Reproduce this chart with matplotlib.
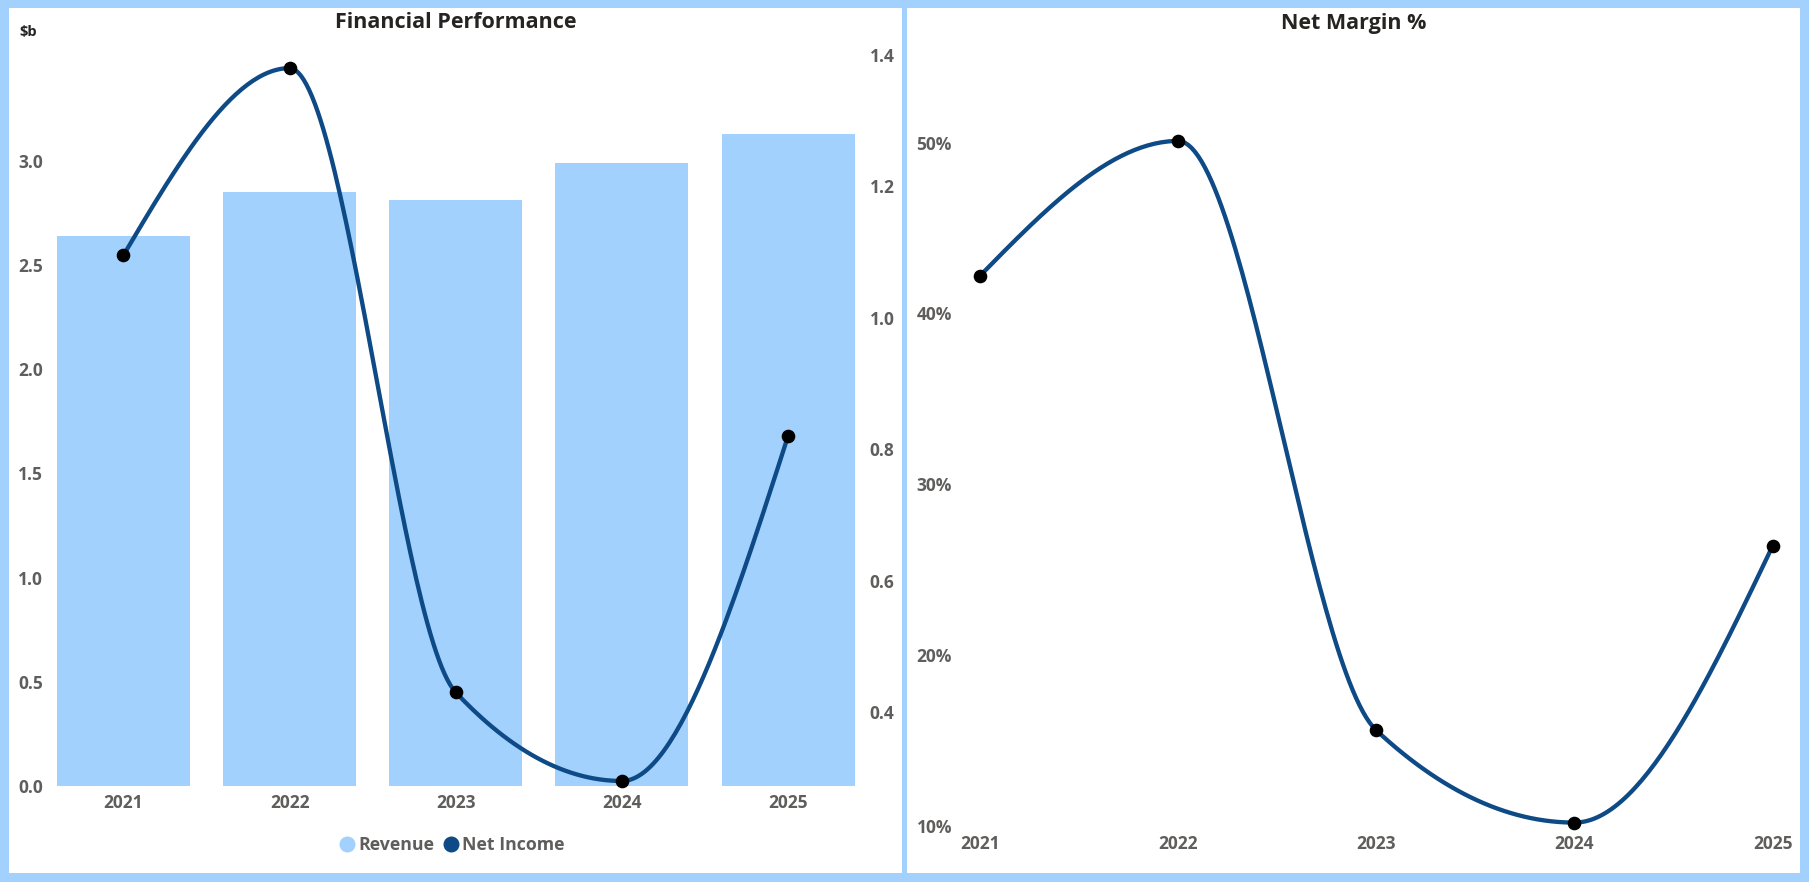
import numpy as np
import matplotlib
matplotlib.use('Agg')
import matplotlib.pyplot as plt
from matplotlib.patches import Rectangle
from matplotlib.lines import Line2D
from matplotlib.ticker import FixedLocator, FuncFormatter

# ---- data ----
years = ['2021', '2022', '2023', '2024', '2025']
revenue = [2.64, 2.85, 2.81, 2.99, 3.13]          # $b
net_income = [1.095, 1.38, 0.43, 0.295, 0.82]     # $b
net_margin = [42.2, 50.1, 15.6, 10.2, 26.4]       # %
rev_ticks = [0.0, 0.5, 1.0, 1.5, 2.0, 2.5, 3.0]
ni_ticks = [0.4, 0.6, 0.8, 1.0, 1.2, 1.4]
margin_ticks = [10, 20, 30, 40, 50]

# ---- style ----
W, H, DPI = 1809, 882, 100
LB = '#A2D1FE'
DB = '#0D4A86'
TICK = '#605E5C'
TITLE = '#252423'
FONT = 'Open Sans'
plt.rcParams['font.family'] = [FONT, 'DejaVu Sans']


def monotone_curve(xs, ys, n=60):
    xs = np.asarray(xs, float)
    ys = np.asarray(ys, float)
    h = np.diff(xs)
    s = np.diff(ys) / h
    m = np.zeros_like(ys)
    for i in range(1, len(ys) - 1):
        p = (s[i - 1] * h[i] + s[i] * h[i - 1]) / (h[i - 1] + h[i])
        m[i] = (np.sign(s[i - 1]) + np.sign(s[i])) * min(abs(s[i - 1]), abs(s[i]), 0.5 * abs(p))
    m[0] = (3 * s[0] - m[1]) / 2
    m[-1] = (3 * s[-1] - m[-2]) / 2
    px, py = [], []
    for i in range(len(xs) - 1):
        t = np.linspace(0, 1, n)
        h00 = 2 * t**3 - 3 * t**2 + 1
        h10 = t**3 - 2 * t**2 + t
        h01 = -2 * t**3 + 3 * t**2
        h11 = t**3 - t**2
        px.append(xs[i] + t * h[i])
        py.append(h00 * ys[i] + h10 * h[i] * m[i] + h01 * ys[i + 1] + h11 * h[i] * m[i + 1])
    return np.concatenate(px), np.concatenate(py)


fig = plt.figure(figsize=(W / DPI, H / DPI), dpi=DPI, facecolor=LB)

def frect(x0, y0, x1, y1):
    return [x0 / W, 1 - y1 / H, (x1 - x0) / W, (y1 - y0) / H]

# white panels
for (x0, y0, x1, y1) in [(9, 8, 902, 873), (907, 8, 1800, 873)]:
    r = frect(x0, y0, x1, y1)
    fig.patches.append(Rectangle((r[0], r[1]), r[2], r[3], transform=fig.transFigure,
                                 facecolor='white', edgecolor='none', zorder=-10))

tick_font = dict(family=[FONT, 'DejaVu Sans'], size=12.5, weight='bold')

# ---- left chart ----
ax1 = fig.add_axes(frect(56.9, 55, 854.5, 786.1))
ax1.set_facecolor('none')
ax1.set_zorder(1)
x = np.arange(len(years))
ax1.bar(x, revenue, width=0.8, color=LB, zorder=1)
ax1.set_xlim(-0.4, 4.4)
ax1.set_ylim(0, 3.508)
ax1.set_xticks(x)
ax1.set_xticklabels(years)
ax1.yaxis.set_major_locator(FixedLocator(rev_ticks))
ax1.yaxis.set_major_formatter(FuncFormatter(lambda v, p: f'{v:.1f}'))

ax2 = ax1.twinx()
ax2.set_zorder(2)
ax2.set_facecolor('none')
cx, cy = monotone_curve(x, net_income)
ax2.plot(cx, cy, color=DB, lw=3.1, solid_capstyle='round', zorder=3, clip_on=False)
ax2.plot(x, net_income, 'o', color='black', markersize=8.8, zorder=4, clip_on=False)
ax2.set_ylim(0.2872, 1.4)
ax2.yaxis.set_major_locator(FixedLocator(ni_ticks))
ax2.yaxis.set_major_formatter(FuncFormatter(lambda v, p: f'{v:.1f}'))

for a in (ax1, ax2):
    for sp in a.spines.values():
        sp.set_visible(False)
    a.tick_params(length=0, colors=TICK)
    for lab in a.get_xticklabels() + a.get_yticklabels():
        lab.set_fontproperties(tick_font)
        lab.set_color(TICK)
ax1.tick_params(axis='y', pad=10)
ax1.tick_params(axis='x', pad=6)
ax2.tick_params(axis='y', pad=11)

fig.text(455.7 / W, 1 - 23 / H, 'Financial Performance', ha='center', va='center',
         fontsize=15.5, weight='bold', color=TITLE)
fig.text(28 / W, 1 - 32 / H, '$b', ha='center', va='center', fontsize=10.5,
         weight='bold', color=TITLE)

handles = [Line2D([], [], marker='o', ls='', color=LB, markersize=10.5),
           Line2D([], [], marker='o', ls='', color=DB, markersize=10.5)]
leg = fig.legend(handles, ['Revenue', 'Net Income'], loc='center',
                 bbox_to_anchor=(452.5 / W, 1 - 845 / H), ncol=2, frameon=False,
                 handlelength=0.8, handletextpad=0.25, columnspacing=0.5,
                 prop=dict(family=[FONT, 'DejaVu Sans'], size=12.8, weight='bold'))
for t in leg.get_texts():
    t.set_color(TICK)

# ---- right chart ----
ax3 = fig.add_axes(frect(970, 55, 1782.6, 827.7))
ax3.set_facecolor('none')
ax3.set_zorder(1)
mx, my = monotone_curve(x, net_margin)
ax3.plot(mx, my, color=DB, lw=3.1, solid_capstyle='round', zorder=3, clip_on=False)
ax3.plot(x, net_margin, 'o', color='black', markersize=8.8, zorder=4, clip_on=False)
ax3.set_xlim(-0.05, 4.05)
ax3.set_ylim(9.9, 55.13)
ax3.set_xticks(x)
ax3.set_xticklabels(years)
ax3.yaxis.set_major_locator(FixedLocator(margin_ticks))
ax3.yaxis.set_major_formatter(FuncFormatter(lambda v, p: f'{v:.0f}%'))
for sp in ax3.spines.values():
    sp.set_visible(False)
ax3.tick_params(length=0, colors=TICK)
ax3.tick_params(axis='y', pad=13)
ax3.tick_params(axis='x', pad=5)
for lab in ax3.get_xticklabels() + ax3.get_yticklabels():
    lab.set_fontproperties(tick_font)
    lab.set_color(TICK)

fig.text(1353.8 / W, 1 - 23.3 / H, 'Net Margin %', ha='center', va='center',
         fontsize=15.5, weight='bold', color=TITLE)

fig.savefig('out.png', dpi=DPI, facecolor=LB)
